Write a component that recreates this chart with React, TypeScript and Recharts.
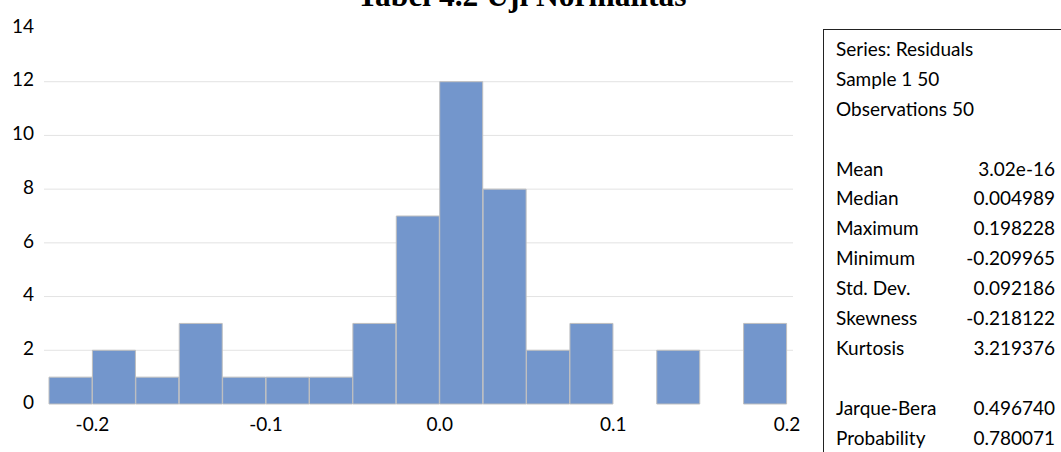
import React from "react";
import {
  BarChart,
  Bar,
  XAxis,
  YAxis,
  CartesianGrid,
} from "recharts";

// Histogram of residuals (bin lower edges, width 0.025)
const binLower = [
  -0.225, -0.2, -0.175, -0.15, -0.125, -0.1, -0.075, -0.05, -0.025, 0, 0.025,
  0.05, 0.075, 0.1, 0.125, 0.15, 0.175,
];
const binCounts = [1, 2, 1, 3, 1, 1, 1, 3, 7, 12, 8, 2, 3, 0, 2, 0, 3];

const xTicks = [-0.2, -0.1, 0, 0.1, 0.2];
const yTicks = [0, 2, 4, 6, 8, 10, 12, 14];
const gridValues = [2, 4, 6, 8, 10, 12];

const statLabels = [
  "Series: Residuals",
  "Sample 1 50",
  "Observations 50",
  "",
  "Mean",
  "Median",
  "Maximum",
  "Minimum",
  "Std. Dev.",
  "Skewness",
  "Kurtosis",
  "",
  "Jarque-Bera",
  "Probability",
];
const statValues = [
  "",
  "",
  "",
  "",
  "3.02e-16",
  "0.004989",
  "0.198228",
  "-0.209965",
  "0.092186",
  "-0.218122",
  "3.219376",
  "",
  "0.496740",
  "0.780071",
];

const FONT = "Lato, 'Noto Sans', sans-serif";

export default function App() {
  const data = binLower.map((lo, i) => ({ bin: String(lo), count: binCounts[i] }));

  return (
    <div
      style={{
        position: "absolute",
        left: 0,
        top: 0,
        width: 1061,
        height: 452,
        overflow: "hidden",
        background: "#fff",
        fontFamily: FONT,
      }}
    >
      <svg
        width={1061}
        height={40}
        style={{ position: "absolute", left: 0, top: 0 }}
      >
        <text
          x={357}
          y={5.5}
          fontFamily="'Liberation Serif', 'Times New Roman', serif"
          fontWeight="bold"
          fontSize={31.5}
          fill="#000"
        >
          Tabel 4.2 Uji Normalitas
        </text>
      </svg>

      <div style={{ position: "absolute", left: 0, top: 0 }}>
        <BarChart
          width={820}
          height={452}
          data={data}
          barCategoryGap={0}
          barGap={0}
          margin={{ top: 28, right: 27, bottom: 20, left: 4 }}
        >
          <CartesianGrid
            vertical={false}
            stroke="#e3e3e3"
            horizontalValues={gridValues}
          />
          <XAxis
            xAxisId="bins"
            dataKey="bin"
            hide
            height={0}
            padding={{ left: 5, right: 6 }}
          />
          <XAxis
            xAxisId="val"
            type="number"
            dataKey="x"
            domain={[-0.225, 0.2]}
            allowDataOverflow
            ticks={xTicks}
            tickFormatter={(v: number) => v.toFixed(1)}
            axisLine={false}
            tickLine={false}
            tickSize={0}
            tickMargin={14}
            height={28}
            padding={{ left: 5, right: 6 }}
            tick={{ fill: "#000", fontSize: 19, fontFamily: FONT }}
          />
          <YAxis
            domain={[0, 14]}
            ticks={yTicks}
            interval={0}
            axisLine={false}
            tickLine={false}
            tickSize={0}
            tickMargin={10}
            width={40}
            tick={{ fill: "#000", fontSize: 19, fontFamily: FONT, dy: -2 }}
          />
          <Bar
            xAxisId="bins"
            dataKey="count"
            fill="#7396cc"
            stroke="#bfbfbf"
            strokeWidth={1}
            isAnimationActive={false}
          />
        </BarChart>
      </div>

      <div
        style={{
          position: "absolute",
          left: 823,
          top: 29,
          width: 300,
          height: 500,
          borderLeft: "1px solid #222",
          borderTop: "1px solid #222",
          boxSizing: "border-box",
          paddingTop: 4,
          fontSize: 19,
          color: "#000",
        }}
      >
        {statLabels.map((label, i) => (
          <div
            key={i}
            style={{
              position: "relative",
              height: 29.9,
              lineHeight: "29.9px",
              whiteSpace: "nowrap",
            }}
          >
            <span style={{ position: "absolute", left: 12 }}>{label}</span>
            <span style={{ position: "absolute", right: 300 - 232 }}>
              {statValues[i]}
            </span>
          </div>
        ))}
      </div>
    </div>
  );
}
